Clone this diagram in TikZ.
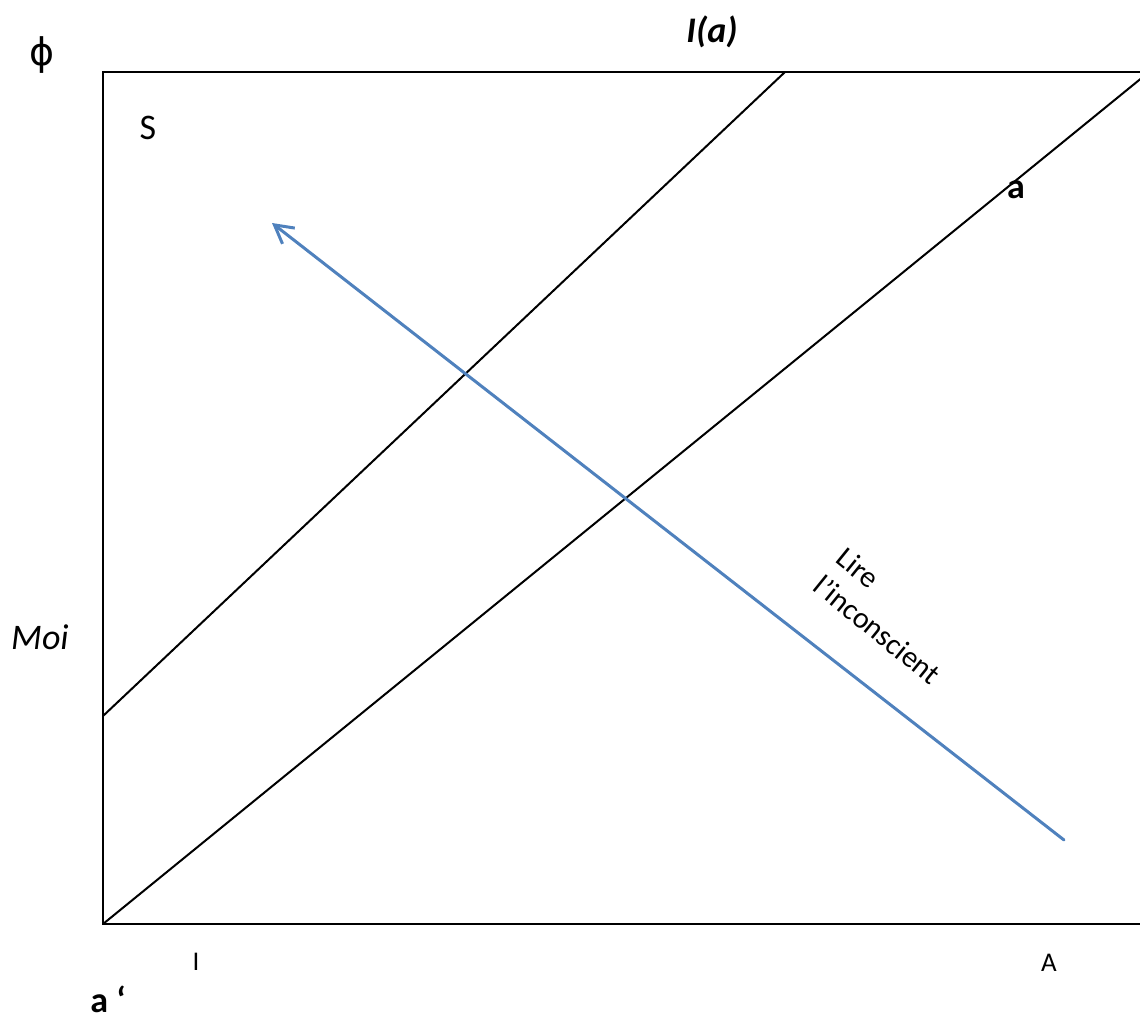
\documentclass[tikz,border=0pt]{standalone}
\usepackage{fontspec}
\setmainfont{Carlito}
\newfontfamily\symbfont{DejaVu Sans}
\usetikzlibrary{arrows.meta}
\definecolor{bleu}{RGB}{79,129,189}

\begin{document}
\begin{tikzpicture}[x=0.5pt,y=-0.5pt,
  txt/.style={font=\fontsize{18}{21.6}\selectfont,inner sep=0pt},
  petit/.style={font=\fontsize{13.5}{16}\selectfont,inner sep=0pt},
  trait/.style={line width=1pt},
  lecture/.style={draw=bleu,line width=1.5pt,line cap=round,
    -{Straight Barb[length=9pt,width=10pt]}}]
\useasboundingbox (0,0) rectangle (1140,1017);
% le cadre (ouvert a droite)
\coordinate (hg) at (103,72);
\coordinate (bg) at (103,924);
\coordinate (hd) at (1150,72);
\coordinate (bd) at (1150,924);
\draw[trait] (hd) -- (hg) -- (bg) -- (bd);
% les deux paralleles
\coordinate (moi1) at (103,716);
\coordinate (ia1) at (785,72);
\coordinate (a1) at (1149,72);
\draw[trait] (moi1) -- (ia1);
\draw[trait] (bg) -- (a1);
% la fleche
\coordinate (depart) at (1064,840);
\coordinate (arrivee) at (272,223);
\draw[lecture] (depart) -- (arrivee);
% les textes
\node[inner sep=0pt,font=\symbfont\fontsize{19}{22}\selectfont] (phi) at (42,55) {ϕ};
\node[txt] (ia) at (712,32) {\bfseries\itshape I(a)};
\node[txt] (s) at (148,128) {S};
\node[txt] (a) at (1016,190) {\bfseries a};
\node[txt] (moi) at (40,637) {\itshape Moi};
\node[petit] (i) at (196,962) {I};
\node[petit] (grandA) at (1049,963) {A};
\node[txt,anchor=base west] (aprime) at (90,1012) {\bfseries a ‘};
\node[inner sep=0pt,font=\fontsize{15}{18}\selectfont,rotate=-39,align=left]
  (lire) at (889,616) {Lire\\l’inconscient};
\end{tikzpicture}
\end{document}
